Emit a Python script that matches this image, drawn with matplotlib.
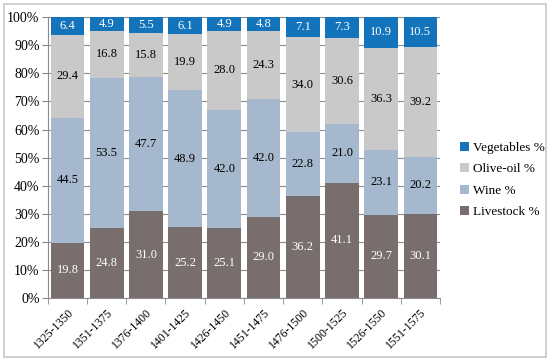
import numpy as np
import matplotlib.pyplot as plt
from matplotlib.patches import Rectangle

periods = ["1325-1350", "1351-1375", "1376-1400", "1401-1425", "1426-1450",
           "1451-1475", "1476-1500", "1500-1525", "1526-1550", "1551-1575"]
livestock = [19.8, 24.8, 31.0, 25.2, 25.1, 29.0, 36.2, 41.1, 29.7, 30.1]
wine = [44.5, 53.5, 47.7, 48.9, 42.0, 42.0, 22.8, 21.0, 23.1, 20.2]
olive_oil = [29.4, 16.8, 15.8, 19.9, 28.0, 24.3, 34.0, 30.6, 36.3, 39.2]
vegetables = [6.4, 4.9, 5.5, 6.1, 4.9, 4.8, 7.1, 7.3, 10.9, 10.5]

series = [
    ("Livestock %", livestock, "#776e6d", "white"),
    ("Wine %", wine, "#a6b8cd", "black"),
    ("Olive-oil %", olive_oil, "#c9c9c9", "black"),
    ("Vegetables %", vegetables, "#1474bb", "white"),
]

plt.rcParams["font.family"] = ["Liberation Serif", "DejaVu Serif"]

fig = plt.figure(figsize=(5.5, 3.64), dpi=100)
fig.patches.append(Rectangle((0.008, 0.02), 0.984, 0.968, transform=fig.transFigure,
                             fill=False, edgecolor="#c8c8c8", linewidth=1.2))
ax = fig.add_axes([0.087, 0.181, 0.713, 0.772])

x = np.arange(len(periods))
# stack as shares so each column reaches 100 %
data = np.array([s[1] for s in series])
shares = data / data.sum(axis=0) * 100
bottom = np.zeros(len(periods))
handles = []
for (name, vals, color, tcolor), sh in zip(series, shares):
    bars = ax.bar(x, sh, 0.86, bottom=bottom, color=color, label=name, zorder=2)
    handles.append(bars)
    for xi, b, h, v in zip(x, bottom, sh, vals):
        ax.text(xi, b + h / 2, f"{v:.1f}", ha="center", va="center",
                color=tcolor, fontsize=9, zorder=3)
    bottom += sh

ax.set_xlim(-0.5, len(periods) - 0.5)
ax.set_ylim(0, 100)
ax.set_yticks(np.arange(0, 101, 10))
ax.set_yticklabels([f"{v}%" for v in range(0, 101, 10)], fontsize=10)
ax.yaxis.grid(True, color="#8c8c8c", linewidth=0.8, zorder=0)
ax.set_axisbelow(True)

ax.set_xticks(x)
ax.set_xticklabels(periods, rotation=45, ha="right", rotation_mode="anchor", fontsize=8.5)
ax.tick_params(axis="x", which="major", length=0, pad=6)
ax.set_xticks(np.arange(-0.5, len(periods), 1), minor=True)
ax.tick_params(axis="x", which="minor", length=4, color="#8c8c8c")
ax.tick_params(axis="y", length=4, color="#8c8c8c", pad=2)

for side in ["top", "right"]:
    ax.spines[side].set_visible(False)
for side in ["left", "bottom"]:
    ax.spines[side].set_color("#8c8c8c")

leg = ax.legend(handles[::-1], [s[0] for s in series][::-1], loc="center left",
                bbox_to_anchor=(1.02, 0.42), frameon=False, fontsize=9.5,
                handlelength=0.7, handleheight=0.7, handletextpad=0.3, labelspacing=0.7)

fig.savefig("out.png", dpi=100)
